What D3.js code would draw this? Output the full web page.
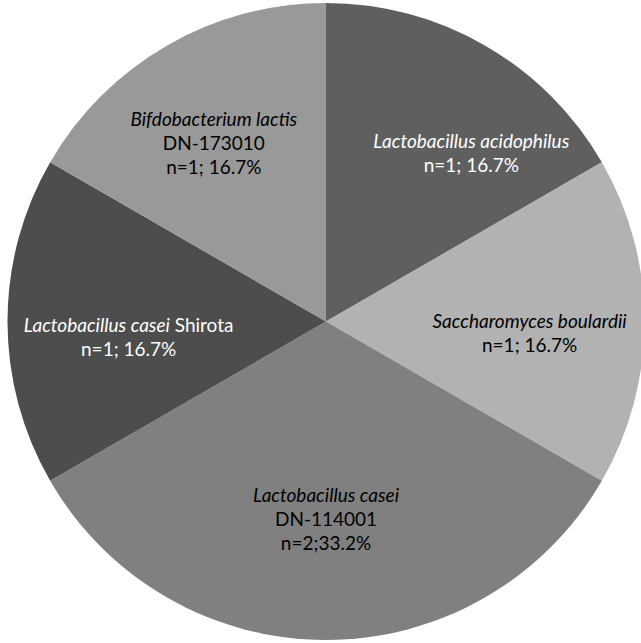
<!DOCTYPE html>
<html><head><meta charset="utf-8">
<script src="https://cdn.jsdelivr.net/npm/d3@7"></script>
<style>html,body{margin:0;padding:0;background:#fff;}svg{display:block;}</style>
</head><body>
<svg id="chart" width="641" height="643"></svg>
<script>
// Data
const strains = ["Lactobacillus acidophilus", "Saccharomyces boulardii", "Lactobacillus casei", "Lactobacillus casei", "Bifdobacterium lactis"];
const strainSuffix = ["", "", "", " Shirota", ""];
const strainCode = ["", "", "DN-114001", "", "DN-173010"];
const counts = [1, 1, 2, 1, 1];
const shares = ["n=1; 16.7%", "n=1; 16.7%", "n=2;33.2%", "n=1; 16.7%", "n=1; 16.7%"];
const fills = ["#5f5f5f", "#b2b2b2", "#808080", "#4d4d4d", "#999999"];
const textColors = ["#ffffff", "#000000", "#000000", "#ffffff", "#000000"];

const svg = d3.select("#chart");
const cx = 326, cy = 321.5, R = 318.5;
const g = svg.append("g").attr("transform", `translate(${cx},${cy})`);

const pie = d3.pie().sort(null).value(d => d)(counts);
const arc = d3.arc().innerRadius(0).outerRadius(R);

g.selectAll("path.slice").data(pie).join("path")
  .attr("class", "slice")
  .attr("d", arc)
  .attr("fill", (d, i) => fills[i]);

// label placement: radius and angular nudge (radians) per slice
const labelR = [222, 204, 198, 198, 210];
const labelNudge = [0.19, 0.06, 0, -0.08, -0.04];
const lineH = 24;

pie.forEach((d, i) => {
  const a = (d.startAngle + d.endAngle) / 2 + labelNudge[i];
  const x = Math.sin(a) * labelR[i];
  const y = -Math.cos(a) * labelR[i];
  const lines = ["first"];
  if (strainCode[i]) lines.push(strainCode[i]);
  lines.push(shares[i]);
  const n = lines.length;
  const t = g.append("text")
    .attr("text-anchor", "middle")
    .attr("font-family", "Lato, 'Open Sans', sans-serif")
    .attr("font-size", 19)
    .attr("fill", textColors[i]);
  lines.forEach((ln, k) => {
    const dy = (k - (n - 1) / 2) * lineH + 6.5;
    if (k === 0) {
      const ts = t.append("tspan").attr("x", x).attr("y", y + dy);
      ts.append("tspan").attr("font-style", "italic").text(strains[i]);
      if (strainSuffix[i]) ts.append("tspan").text(strainSuffix[i]);
    } else {
      t.append("tspan").attr("x", x).attr("y", y + dy).text(ln);
    }
  });
});
</script>
</body></html>
